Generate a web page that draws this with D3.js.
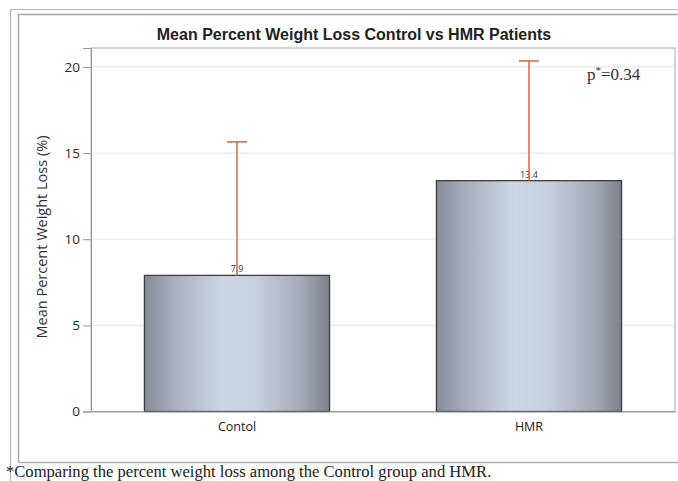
<!DOCTYPE html>
<html>
<head>
<meta charset="utf-8">
<script src="https://cdn.jsdelivr.net/npm/d3@7"></script>
<style>
  html, body { margin: 0; padding: 0; background: #fff; }
  svg { display: block; }
</style>
</head>
<body>
<svg id="chart" width="678" height="481"></svg>
<script>
// Group means and upper error (mean + SD) for percent weight loss
const groups = ["Contol", "HMR"];
const means = [7.9, 13.4];
const upperErr = [15.65, 20.35];
const valueLabels = ["7.9", "13.4"];
const yTicks = [0, 5, 10, 15, 20];

const svg = d3.select("#chart");
const W = 678, H = 481;
const plot = { left: 91, right: 675, top: 48, bottom: 411.5 };

// Double frame around the figure
svg.append("path")
  .attr("d", `M10.5,${H} V9.5 H${W}`)
  .attr("fill", "none").attr("stroke", "#b8b8b8").attr("stroke-width", 1.2);
svg.append("path")
  .attr("d", `M18.5,462.5 V14.5 H${W}`)
  .attr("fill", "none").attr("stroke", "#a8a8a8").attr("stroke-width", 1.4);
svg.append("line")
  .attr("x1", 18.5).attr("x2", W).attr("y1", 462.5).attr("y2", 462.5)
  .attr("stroke", "#b0b0b0").attr("stroke-width", 1.4);

const x = d3.scaleBand()
  .domain(groups)
  .range([plot.left, plot.right])
  .paddingInner(0.366)
  .paddingOuter(0.183);

const y = d3.scaleLinear()
  .domain([0, 21.1])
  .range([plot.bottom, plot.top]);

// Gridlines
svg.append("g")
  .selectAll("line")
  .data(yTicks.filter(d => d > 0))
  .join("line")
  .attr("x1", plot.left).attr("x2", plot.right)
  .attr("y1", d => y(d)).attr("y2", d => y(d))
  .attr("stroke", "#e8e8e8").attr("stroke-width", 1.2);

// Plot area border
svg.append("rect")
  .attr("x", plot.left).attr("y", plot.top)
  .attr("width", plot.right - plot.left).attr("height", plot.bottom - plot.top)
  .attr("fill", "none").attr("stroke", "#aaaaaa").attr("stroke-width", 1);

// Bar gradient
const defs = svg.append("defs");
const grad = defs.append("linearGradient").attr("id", "barGrad")
  .attr("x1", "0%").attr("x2", "100%").attr("y1", "0%").attr("y2", "0%");
[[0, "#858b97"], [0.15, "#a6aebb"], [0.42, "#cdd6e3"], [0.6, "#c7d0dd"], [0.85, "#a4abb6"], [1, "#7c818a"]]
  .forEach(([o, c]) => grad.append("stop").attr("offset", o).attr("stop-color", c));

// Bars
svg.append("g")
  .selectAll("rect")
  .data(groups)
  .join("rect")
  .attr("x", d => x(d))
  .attr("y", (d, i) => y(means[i]))
  .attr("width", x.bandwidth())
  .attr("height", (d, i) => y(0) - y(means[i]))
  .attr("fill", "url(#barGrad)")
  .attr("stroke", "#3a3d42").attr("stroke-width", 1.3);

// Value labels on top of bars
svg.append("g")
  .selectAll("text")
  .data(groups)
  .join("text")
  .attr("x", d => x(d) + x.bandwidth() / 2)
  .attr("y", (d, i) => y(means[i]) - 3)
  .attr("text-anchor", "middle")
  .attr("font-family", "'Open Sans', sans-serif")
  .attr("font-size", 9)
  .attr("fill", "#333")
  .text((d, i) => valueLabels[i]);

// Error bars (upper only)
const eb = svg.append("g").attr("stroke", "#c46d4c").attr("stroke-width", 1.5);
groups.forEach((g, i) => {
  const cx = x(g) + x.bandwidth() / 2;
  eb.append("line")
    .attr("x1", cx).attr("x2", cx)
    .attr("y1", y(means[i])).attr("y2", y(upperErr[i]));
  eb.append("line")
    .attr("x1", cx - 10).attr("x2", cx + 10)
    .attr("y1", y(upperErr[i])).attr("y2", y(upperErr[i]));
});

// Y axis
const yAxis = svg.append("g")
  .attr("transform", `translate(${plot.left},0)`)
  .call(d3.axisLeft(y).tickValues(yTicks).tickSize(8).tickPadding(3));
yAxis.select(".domain").attr("stroke", "#999");
yAxis.selectAll(".tick line").attr("stroke", "#999");
yAxis.selectAll("text")
  .attr("font-family", "'Open Sans', sans-serif")
  .attr("font-size", 13.5).attr("fill", "#2a2a2a");

// X axis
const xAxis = svg.append("g")
  .attr("transform", `translate(0,${plot.bottom})`)
  .call(d3.axisBottom(x).tickSize(0).tickPadding(11));
xAxis.select(".domain").attr("stroke", "#999");
xAxis.selectAll("text")
  .attr("font-family", "'Open Sans', sans-serif")
  .attr("font-size", 12.5).attr("fill", "#222");

// Y axis title
svg.append("text")
  .attr("transform", `translate(47,237) rotate(-90)`)
  .attr("text-anchor", "middle")
  .attr("font-family", "'Open Sans', sans-serif")
  .attr("font-size", 14.5).attr("fill", "#333")
  .text("Mean Percent Weight Loss (%)");

// Chart title
svg.append("text")
  .attr("x", 354).attr("y", 40)
  .attr("text-anchor", "middle")
  .attr("font-family", "'Liberation Sans', Arial, sans-serif")
  .attr("font-weight", "bold")
  .attr("font-size", 16).attr("fill", "#222")
  .text("Mean Percent Weight Loss Control vs HMR Patients");

// p-value annotation
const p = svg.append("text")
  .attr("x", 587).attr("y", 80)
  .attr("font-family", "'Liberation Serif', 'Times New Roman', serif")
  .attr("font-size", 17).attr("fill", "#333");
p.append("tspan").text("p");
p.append("tspan").attr("dy", -6).attr("font-size", 11).text("*");
p.append("tspan").attr("dy", 6).text("=0.34");

// Footnote
svg.append("text")
  .attr("x", 6).attr("y", 477)
  .attr("font-family", "'Liberation Serif', 'Times New Roman', serif")
  .attr("font-size", 16.6).attr("fill", "#222")
  .text("*Comparing the percent weight loss among the Control group and HMR.");
</script>
</body>
</html>
